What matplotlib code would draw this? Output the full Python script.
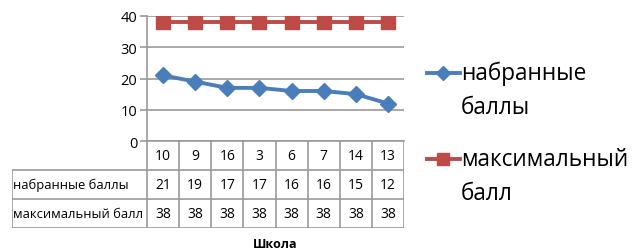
import matplotlib
matplotlib.use("Agg")
import matplotlib.pyplot as plt
from matplotlib.lines import Line2D

plt.rcParams['font.family'] = ['Open Sans', 'DejaVu Sans']

schools = ["10", "9", "16", "3", "6", "7", "14", "13"]
scored = [21, 19, 17, 17, 16, 16, 15, 12]
maximum = [38, 38, 38, 38, 38, 38, 38, 38]
series_names = ["набранные баллы", "максимальный балл"]
x_title = "Школа"

W, H = 637, 251
blue = "#4a7ebb"
red = "#be4b48"
grid = "#9a9a9a"

fig = plt.figure(figsize=(W / 100, H / 100), dpi=100)

# plot area in pixels
L, R, T, B = 147, 404, 17, 142
ax = fig.add_axes([L / W, 1 - B / H, (R - L) / W, (B - T) / H])
xs = [i + 0.5 for i in range(len(schools))]
ax.plot(xs, scored, color=blue, lw=2.8, marker="D", ms=8, mec=blue, mfc=blue)
ax.plot(xs, maximum, color=red, lw=2.8, marker="s", ms=9.5, mec=red, mfc=red)
ax.set_xlim(0, len(schools))
ax.set_ylim(0, 40)
ax.set_yticks(range(0, 41, 10))
ax.set_xticks([])
ax.yaxis.grid(True, color=grid, lw=1.2)
ax.set_axisbelow(True)
for s in ["top", "right"]:
    ax.spines[s].set_visible(False)
for s in ["left", "bottom"]:
    ax.spines[s].set_color(grid)
    ax.spines[s].set_linewidth(1.2)
ax.tick_params(axis="y", length=5, width=1.2, color=grid, labelsize=10.5, pad=2)

# data table under the plot
TL, TB = 12, 229
tab = fig.add_axes([TL / W, 1 - TB / H, (R - TL) / W, (TB - B) / H])
n = len(schools)
lab_w = (L - TL) / ((R - L) / n)
tab.set_xlim(-lab_w, n)
tab.set_ylim(3, 0)
tab.axis("off")
lc = dict(color=grid, lw=1.2, solid_capstyle="projecting")
for yy in (1, 2, 3):
    tab.plot([-lab_w, n], [yy, yy], **lc)
for xx in range(n + 1):
    tab.plot([xx, xx], [0, 3], **lc)
tab.plot([-lab_w, -lab_w], [1, 3], **lc)

rows = [scored, maximum]
for i, s in enumerate(schools):
    tab.text(i + 0.5, 0.5, s, ha="center", va="center", fontsize=10)
    for r, vals in enumerate(rows):
        tab.text(i + 0.5, r + 1.5, str(vals[i]), ha="center", va="center", fontsize=10)
for r, name in enumerate(series_names):
    tab.text(-lab_w + 0.04, r + 1.5, name, ha="left", va="center", fontsize=9.4)

fig.text((L + R) / 2 / W, 1 - 245 / H, x_title, ha="center", va="center",
         fontsize=9, fontweight="bold")

# legend
leg = [(blue, "D", 7, 74), (red, "s", 9, 160)]
for (c, m, ms, yp), name in zip(leg, series_names):
    y = 1 - yp / H
    fig.add_artist(Line2D([427 / W, 460 / W], [y, y], color=c, lw=2.8,
                          transform=fig.transFigure))
    fig.add_artist(Line2D([443.5 / W], [y], color=c, marker=m, ms=ms,
                          transform=fig.transFigure))
    first, second = name.split(" ", 1)
    fig.text(461 / W, y, first, ha="left", va="center", fontsize=16.3)
    fig.text(461 / W, y - 34 / H, second, ha="left", va="center", fontsize=16.3)

fig.savefig("out.png", dpi=100)
